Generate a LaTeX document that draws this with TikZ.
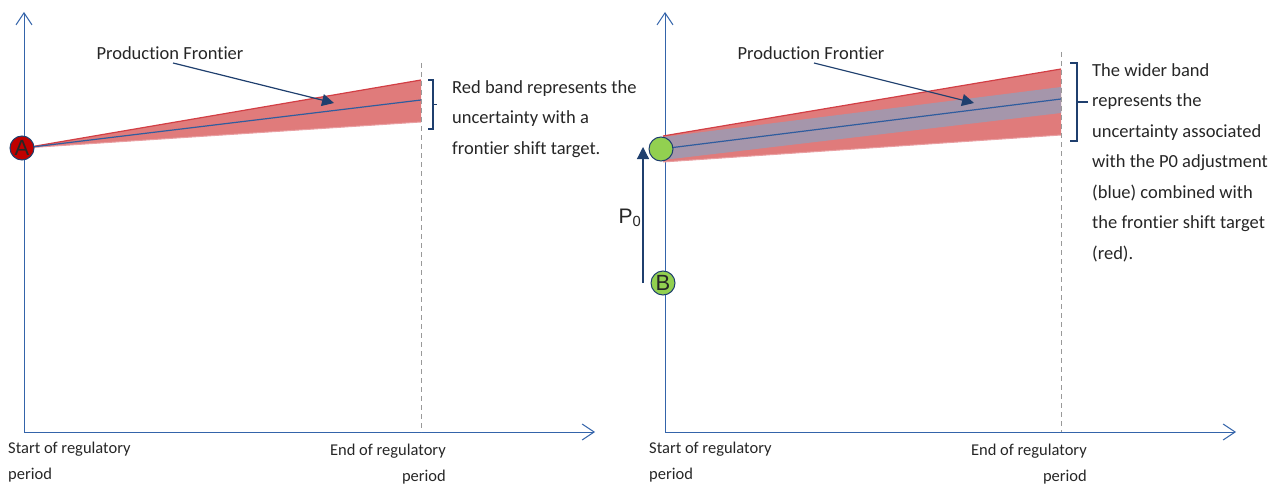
\documentclass[tikz,border=0pt]{standalone}
\usepackage{fontspec}
\setmainfont[Ligatures=NoCommon]{Carlito}
\newfontfamily\arialf{Liberation Sans}
\usetikzlibrary{arrows.meta}
\definecolor{axisblue}{HTML}{3464AA}
\definecolor{navy}{HTML}{1F3F6E}
\definecolor{bandred}{HTML}{E07B7B}
\definecolor{edgered}{HTML}{D23F45}
\definecolor{bandpurple}{HTML}{A596AB}
\definecolor{dredfill}{HTML}{C00000}
\definecolor{greenfill}{HTML}{92D050}
\definecolor{txt}{HTML}{262626}
\newcommand{\topstrut}{\rule{0pt}{16pt}}
\tikzset{
  axis/.style={draw=axisblue, line width=1pt, -{Straight Barb[length=12pt,width=16pt,line width=1pt]}},
  dashv/.style={draw=gray!80, line width=0.9pt, dash pattern=on 5pt off 4pt},
  callout/.style={draw=navy, line width=1.2pt, -{Triangle[length=12pt,width=12pt]}},
  frontier/.style={draw=axisblue!80!navy, line width=1.2pt},
  pt/.style={circle, draw=navy, line width=1pt, minimum size=24pt, inner sep=0pt, font=\arialf\fontsize{22}{22}\selectfont, text=txt},
  lbl/.style={font=\fontsize{18.5}{30.5}\selectfont, text=txt, inner sep=0pt},
  axlbl/.style={font=\fontsize{16.5}{26.5}\selectfont, text=txt, inner sep=0pt},
  brace/.style={draw=navy, line width=1.2pt}
}
\begin{document}
\begin{tikzpicture}[x=1pt,y=-1pt]
\useasboundingbox (0,0) rectangle (1273,484);
% ---------- left panel ----------
\coordinate (LO) at (24,432);
\coordinate (LY) at (24,12);
\coordinate (LX) at (595,432);
\draw[axis] (LO) -- (LY);
\draw[axis] (LO) -- (LX);
\fill[bandred] (24,148) -- (421,80) -- (421,122) -- cycle;
\draw[edgered, line width=1.2pt] (24,148) -- (421,80);
\draw[edgered!50, line width=1pt] (24,148) -- (421,122);
\draw[frontier] (24,148) -- (421,100);
\coordinate (LD1) at (421,63);
\coordinate (LD2) at (421,432);
\draw[dashv] (LD1) -- (LD2);
\node[pt, fill=dredfill] (A) at (22,148) {A};
\node[lbl, anchor=center] (PF1) at (170,53) {Production Frontier};
\coordinate (PF1t) at (334,103);
\draw[callout] (173,63) -- (PF1t);
\draw[brace] (428,80) -- (433,80) -- (433,129) -- (428,129);
\draw[brace] (433,104.5) -- (437,104.5);
\node[lbl, anchor=north west, align=left] (T1) at (452,77)
  {\topstrut Red band represents the\\uncertainty with a\\frontier shift target.};
\node[axlbl, anchor=north west, align=left] (S1) at (8,437)
  {\topstrut Start of regulatory\\period};
\node[axlbl, anchor=north east, align=right] (E1) at (446,439)
  {\topstrut End of regulatory\\period};
% ---------- right panel ----------
\coordinate (RO) at (665,432);
\coordinate (RY) at (665,12);
\coordinate (RX) at (1236,432);
\draw[axis] (RO) -- (RY);
\draw[axis] (RO) -- (RX);
\fill[bandred] (663,136) -- (1061,69) -- (1061,135) -- (663,162) -- cycle;
\draw[edgered, line width=1.2pt] (663,136) -- (1061,69);
\draw[edgered!50, line width=1pt] (663,162) -- (1061,135);
\fill[bandpurple] (663,137) -- (1061,87) -- (1061,113) -- (663,160) -- cycle;
\draw[frontier] (661,149) -- (1061,99);
\coordinate (RD1) at (1061,52);
\coordinate (RD2) at (1061,432);
\draw[dashv] (RD1) -- (RD2);
\node[pt, fill=greenfill] (G) at (661,149) {};
\node[pt, fill=greenfill] (B) at (663,283) {B};
\coordinate (P0s) at (643,283);
\coordinate (P0e) at (643,147);
\draw[callout] (P0s) -- (P0e);
\node[font=\arialf\fontsize{21}{21}\selectfont, text=txt, inner sep=0pt] (P0) at (630,218) {P\textsubscript{0}};
\node[lbl, anchor=center] (PF2) at (811,53) {Production Frontier};
\coordinate (PF2t) at (974,103);
\draw[callout] (814,63) -- (PF2t);
\draw[brace] (1070,63) -- (1077,63) -- (1077,141) -- (1070,141);
\draw[brace] (1077,102) -- (1088,102);
\node[lbl, anchor=north west, align=left] (T2) at (1092,60)
  {\topstrut The wider band\\represents the\\uncertainty associated\\with the P0 adjustment\\(blue) combined with\\the frontier shift target\\(red).};
\node[axlbl, anchor=north west, align=left] (S2) at (649,437)
  {\topstrut Start of regulatory\\period};
\node[axlbl, anchor=north east, align=right] (E2) at (1087,439)
  {\topstrut End of regulatory\\period};
\end{tikzpicture}
\end{document}
